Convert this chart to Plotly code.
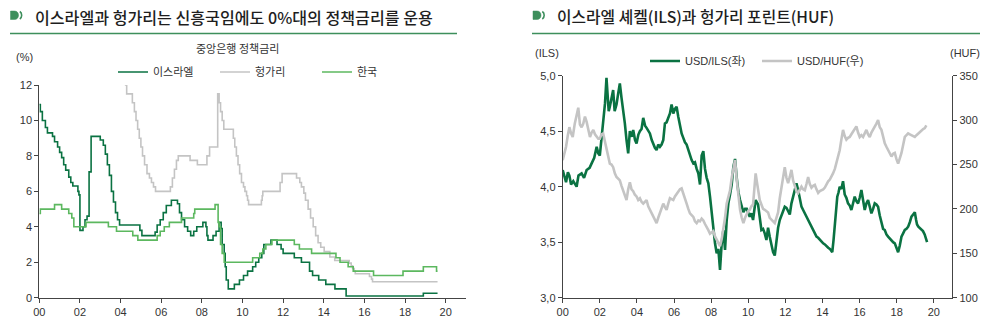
import plotly.graph_objects as go

# ---------------- Left chart: central bank policy rates (%) ----------------
isr_x = [0.00, 0.05, 0.15, 0.30, 0.40, 0.65, 0.75, 0.90, 1.00, 1.10, 1.20, 1.30, 1.45, 1.55, 1.65, 1.90, 1.95,
         2.00, 2.15, 2.25, 2.35, 2.45, 2.55, 3.00, 3.15, 3.25, 3.35, 3.45, 3.55, 3.65, 3.75, 3.85, 3.95, 4.95,
         5.05, 5.70, 5.80, 5.95, 6.10, 6.25, 6.50, 6.80, 6.90, 7.00, 7.15, 7.30, 7.45, 7.60, 7.75, 8.05, 8.20,
         8.25, 8.30, 8.55, 8.70, 8.85, 8.95, 9.00, 9.10, 9.15, 9.20, 9.30, 9.60, 9.85, 10.05, 10.25, 10.50,
         10.65, 10.80, 10.95, 11.05, 11.40, 11.70, 11.90, 12.00, 12.55, 12.90, 13.30, 13.45, 13.75, 14.10,
         14.55, 15.10, 18.90, 19.60]
isr_y = [10.9, 10.5, 10.0, 9.6, 9.3, 9.1, 8.8, 8.5, 8.2, 7.9, 7.5, 7.2, 6.8, 6.5, 6.3, 6.0, 5.8,
         3.8, 4.0, 4.4, 4.6, 7.1, 9.1, 8.9, 8.6, 8.1, 7.5, 6.9, 6.0, 5.4, 4.8, 4.4, 4.1, 3.8,
         3.5, 3.7, 4.1, 4.4, 4.8, 5.2, 5.5, 5.3, 4.8, 4.4, 4.0, 3.75, 3.5, 3.75, 4.0, 4.25, 4.0,
         3.5, 3.25, 3.5, 3.75, 4.25, 3.9, 3.0, 2.5, 1.75, 1.0, 0.5, 0.75, 1.0, 1.25, 1.5, 1.75,
         2.0, 2.25, 2.5, 3.0, 3.25, 3.0, 2.75, 2.5, 2.25, 2.0, 1.5, 1.25, 1.0, 0.75,
         0.5, 0.1, 0.25, 0.25]

hun_x = [4.21, 4.30, 4.58, 4.68, 4.76, 4.84, 4.92, 5.00, 5.08, 5.18, 5.30, 5.42, 5.52, 5.62, 5.72, 6.45,
         6.55, 6.65, 6.75, 6.84, 7.42, 7.78, 8.25, 8.38, 8.78, 8.85, 8.92, 9.00, 9.08, 9.55, 9.62, 9.70,
         9.78, 9.86, 9.95, 10.05, 10.12, 10.20, 10.25, 10.30, 10.93, 10.97, 11.00, 11.85, 11.95, 12.66,
         12.82, 12.90, 13.02, 13.10, 13.23, 13.35, 13.48, 13.60, 13.72, 13.85, 14.02, 14.30, 14.54, 15.25,
         15.35, 15.42, 15.50, 15.55, 16.25, 16.35, 16.40, 19.60]
hun_y = [12.0, 11.5, 11.0, 10.5, 10.0, 9.5, 9.0, 8.5, 8.0, 7.5, 7.0, 6.75, 6.5, 6.25, 6.0, 6.25,
         6.75, 7.25, 7.75, 8.0, 7.75, 7.5, 8.0, 8.5, 11.5, 11.0, 10.5, 10.0, 9.5, 9.0, 8.5, 8.0,
         7.5, 7.0, 6.5, 6.25, 6.0, 5.75, 5.5, 5.25, 5.5, 5.75, 6.0, 6.5, 7.0, 6.75,
         6.5, 6.25, 5.9, 5.5, 5.0, 4.5, 4.0, 3.5, 3.1, 2.85, 2.6, 2.3, 2.1, 1.95,
         1.8, 1.65, 1.5, 1.35, 1.2, 1.05, 0.9, 0.9]

kor_x = [0.00, 0.05, 0.75, 1.10, 1.45, 1.60, 1.70, 2.30, 3.40, 3.80, 4.60, 4.85, 5.80, 5.95, 6.15, 6.40,
         7.00, 7.60, 7.65, 8.65, 8.80, 8.85, 8.92, 9.00, 9.10, 10.50, 10.85, 11.00, 11.15, 11.45, 12.55,
         12.80, 13.40, 14.60, 14.80, 15.20, 15.45, 16.45, 17.90, 18.90, 19.55, 19.60]
kor_y = [4.75, 5.0, 5.25, 5.0, 4.75, 4.5, 4.0, 4.25, 4.0, 3.75, 3.5, 3.25, 3.5, 3.75, 4.0, 4.25,
         4.5, 4.75, 5.0, 5.25, 4.25, 4.0, 3.0, 2.5, 2.0, 2.25, 2.5, 2.75, 3.0, 3.25, 3.0,
         2.75, 2.5, 2.25, 2.0, 1.75, 1.5, 1.25, 1.5, 1.75, 1.5, 1.5]

# ---------------- Right chart: USD/ILS (left) and USD/HUF (right) ----------------
ils_x = [0.00, 0.10, 0.18, 0.28, 0.36, 0.45, 0.57, 0.75, 0.85, 1.02, 1.15, 1.29, 1.45, 1.56, 1.70, 1.83,
         1.92, 2.00, 2.10, 2.18, 2.28, 2.36, 2.42, 2.48, 2.54, 2.62, 2.72, 2.80, 2.90, 3.00, 3.08, 3.17,
         3.26, 3.35, 3.44, 3.53, 3.62, 3.72, 3.80, 3.90, 3.98, 4.08, 4.16, 4.25, 4.34, 4.44, 4.52, 4.62,
         4.70, 4.80, 4.88, 4.97, 5.06, 5.15, 5.24, 5.33, 5.42, 5.51, 5.60, 5.69, 5.78, 5.87, 5.96, 6.05,
         6.14, 6.23, 6.32, 6.41, 6.50, 6.59, 6.68, 6.77, 6.86, 6.95, 7.04, 7.13, 7.22, 7.31, 7.40, 7.49,
         7.58, 7.67, 7.76, 7.85, 7.94, 8.03, 8.12, 8.21, 8.30, 8.39, 8.48, 8.57, 8.66, 8.75, 8.84, 8.93,
         9.02, 9.11, 9.20, 9.29, 9.38, 9.47, 9.56, 9.65, 9.74, 9.83, 9.92, 10.08, 10.17, 10.26, 10.33,
         10.40, 10.53, 10.62, 10.71, 10.80, 10.89, 10.98, 11.07, 11.16, 11.25, 11.34, 11.43, 11.52, 11.61,
         11.70, 11.79, 11.88, 11.97, 12.06, 12.15, 12.24, 12.33, 12.42, 12.51, 12.60, 12.69, 12.78, 12.87,
         12.96, 13.05, 13.14, 13.23, 13.32, 13.41, 13.50, 13.59, 13.68, 13.77, 13.86, 13.95, 14.04, 14.13,
         14.22, 14.31, 14.40, 14.53, 14.60, 14.66, 14.73, 14.80, 14.87, 14.93, 15.02, 15.11, 15.20, 15.29,
         15.38, 15.47, 15.56, 15.65, 15.74, 15.83, 15.92, 16.01, 16.10, 16.19, 16.28, 16.37, 16.46, 16.55,
         16.64, 16.73, 16.82, 16.91, 17.00, 17.09, 17.18, 17.27, 17.36, 17.45, 17.54, 17.63, 17.72, 17.81,
         17.90, 17.99, 18.08, 18.17, 18.26, 18.35, 18.44, 18.53, 18.62, 18.71, 18.80, 18.89, 18.98, 19.05,
         19.10, 19.17, 19.24, 19.33, 19.42, 19.51, 19.58, 19.64]
ils_y = [4.15, 4.08, 4.04, 4.13, 4.10, 4.02, 4.05, 4.00, 4.10, 4.12, 4.08, 4.15, 4.17, 4.21, 4.26, 4.36,
         4.30, 4.28, 4.45, 4.62, 4.75, 4.98, 4.85, 4.68, 4.72, 4.80, 4.87, 4.68, 4.74, 4.85, 4.93, 4.80,
         4.70, 4.57, 4.42, 4.30, 4.50, 4.45, 4.51, 4.42, 4.39, 4.47, 4.50, 4.52, 4.62, 4.55, 4.53, 4.50,
         4.48, 4.42, 4.38, 4.35, 4.33, 4.38, 4.36, 4.38, 4.42, 4.57, 4.58, 4.62, 4.66, 4.74, 4.66, 4.70,
         4.72, 4.63, 4.55, 4.48, 4.44, 4.40, 4.38, 4.33, 4.28, 4.24, 4.21, 4.22, 4.16, 4.12, 4.02, 4.28,
         4.32, 4.16, 4.08, 4.03, 3.91, 3.76, 3.58, 3.49, 3.40, 3.44, 3.25, 3.49, 3.61, 3.43, 3.70, 3.85,
         3.93, 4.02, 4.18, 4.25, 4.08, 3.95, 3.88, 3.82, 3.77, 3.80, 3.80, 3.73, 3.76, 3.70, 3.80,
         3.88, 3.84, 3.72, 3.61, 3.62, 3.58, 3.52, 3.63, 3.55, 3.49, 3.41, 3.38, 3.52, 3.63,
         3.70, 3.74, 3.79, 3.82, 3.81, 3.78, 3.75, 3.85, 3.91, 3.95, 4.03, 3.97, 3.88, 3.82,
         3.79, 3.76, 3.73, 3.70, 3.67, 3.64, 3.61, 3.58, 3.55, 3.54, 3.52, 3.50, 3.49, 3.48,
         3.46, 3.45, 3.44, 3.41, 3.52, 3.64, 3.80, 3.91, 3.95, 4.00, 3.98, 4.05, 3.93, 3.90,
         3.85, 3.83, 3.79, 3.86, 3.91, 3.87, 3.85, 3.90, 3.97, 3.88, 3.79, 3.85, 3.88, 3.82,
         3.76, 3.80, 3.85, 3.84, 3.82, 3.74, 3.67, 3.62, 3.61, 3.57, 3.55, 3.53, 3.52, 3.50,
         3.49, 3.45, 3.41, 3.47, 3.55, 3.58, 3.61, 3.62, 3.64, 3.68, 3.73, 3.75, 3.77, 3.70,
         3.66, 3.64, 3.63, 3.62, 3.60, 3.57, 3.52, 3.50]

huf_x = [0.00, 0.10, 0.18, 0.27, 0.36, 0.45, 0.54, 0.65, 0.75, 0.84, 0.93, 1.02, 1.11, 1.20, 1.29, 1.38,
         1.47, 1.56, 1.65, 1.74, 1.83, 1.92, 2.00, 2.09, 2.18, 2.27, 2.36, 2.45, 2.54, 2.63, 2.72, 2.81,
         2.90, 2.99, 3.08, 3.17, 3.26, 3.35, 3.44, 3.53, 3.62, 3.71, 3.80, 3.89, 3.98, 4.07, 4.16, 4.25,
         4.34, 4.43, 4.52, 4.61, 4.70, 4.79, 4.88, 4.97, 5.06, 5.15, 5.24, 5.33, 5.42, 5.51, 5.60, 5.69,
         5.78, 5.87, 5.96, 6.05, 6.14, 6.23, 6.32, 6.41, 6.50, 6.59, 6.68, 6.77, 6.86, 6.95, 7.04, 7.13,
         7.22, 7.31, 7.40, 7.49, 7.58, 7.67, 7.76, 7.85, 7.94, 8.03, 8.12, 8.21, 8.30, 8.39, 8.48, 8.57,
         8.66, 8.75, 8.84, 8.93, 9.02, 9.11, 9.20, 9.29, 9.38, 9.47, 9.56, 9.65, 9.74, 9.83, 9.92, 10.01,
         10.08, 10.17, 10.26, 10.33, 10.40, 10.47, 10.53, 10.62, 10.71, 10.80, 10.89, 10.98, 11.07, 11.16,
         11.25, 11.34, 11.43, 11.52, 11.61, 11.70, 11.79, 11.88, 11.97, 12.06, 12.15, 12.24, 12.33, 12.42,
         12.51, 12.60, 12.69, 12.78, 12.87, 12.96, 13.05, 13.14, 13.23, 13.32, 13.41, 13.50, 13.59, 13.68,
         13.77, 13.86, 13.95, 14.04, 14.13, 14.22, 14.31, 14.40, 14.49, 14.57, 14.67, 14.75, 14.85, 14.93,
         15.02, 15.11, 15.20, 15.29, 15.38, 15.47, 15.56, 15.65, 15.74, 15.83, 15.92, 16.01, 16.10, 16.19,
         16.28, 16.37, 16.46, 16.55, 16.64, 16.73, 16.82, 16.91, 17.00, 17.09, 17.18, 17.27, 17.36, 17.45,
         17.54, 17.63, 17.72, 17.81, 17.90, 17.99, 18.08, 18.17, 18.26, 18.35, 18.44, 18.53, 18.62, 18.71,
         18.80, 18.89, 18.98, 19.07, 19.16, 19.25, 19.34, 19.43, 19.52, 19.60]
huf_y = [255, 262, 270, 282, 292, 285, 281, 296, 308, 314, 295, 292, 296, 304, 298, 290,
         281, 286, 289, 284, 282, 279, 279, 284, 285, 276, 266, 258, 251, 250, 247, 240,
         236, 234, 232, 226, 221, 215, 210, 222, 230, 222, 220, 216, 214, 210, 212, 208,
         206, 208, 210, 203, 199, 195, 191, 187, 184, 190, 195, 200, 206, 202, 199, 206,
         212, 211, 210, 214, 217, 220, 222, 223, 218, 212, 206, 200, 195, 193, 191, 186,
         184, 187, 186, 189, 187, 183, 180, 176, 172, 174, 175, 169, 165, 161, 158, 166,
         176, 190, 206, 214, 221, 235, 247, 255, 233, 212, 199, 190, 184, 190, 195, 198,
         199, 203, 205, 225, 240, 230, 221, 210, 205, 200, 199, 197, 196, 190,
         188, 186, 184, 190, 196, 212, 225, 238, 247, 235, 229, 236, 244, 232,
         225, 220, 218, 222, 225, 222, 221, 228, 236, 228, 224, 226, 227, 222,
         218, 220, 221, 222, 224, 228, 231, 233, 236, 240, 245, 251, 258, 266,
         278, 289, 282, 278, 280, 281, 284, 287, 290, 293, 286, 281, 283, 281,
         285, 289, 284, 281, 286, 289, 293, 296, 300, 292, 289, 280, 274, 270,
         266, 262, 259, 262, 263, 256, 251, 257, 263, 272, 281, 283, 285, 284,
         283, 282, 281, 283, 285, 287, 288, 290, 291, 294]

year_ticks = [0, 2, 4, 6, 8, 10, 12, 14, 16, 18, 20]
year_labels = ["00", "02", "04", "06", "08", "10", "12", "14", "16", "18", "20"]

DARK = "#0a7242"
LIGHT = "#5cb85f"
GREY = "#c4c4c4"
RULE = "#3d8f5c"
AX = "#444444"
TXT = "#333333"
FONT = "Liberation Sans, Noto Sans CJK KR, sans-serif"
KFONT = "Noto Sans CJK KR, sans-serif"
NFONT = "Liberation Sans Narrow, Noto Sans CJK KR, sans-serif"

W, H = 1000, 323
def px(x, y):
    return x / W, 1 - y / H

fig = go.Figure()

fig.add_trace(go.Scatter(x=isr_x, y=isr_y, name="이스라엘", mode="lines", line=dict(color=DARK, width=1.6, shape="hv"),
                         xaxis="x", yaxis="y", legend="legend"))
fig.add_trace(go.Scatter(x=hun_x, y=hun_y, name="헝가리", mode="lines", line=dict(color=GREY, width=1.6, shape="hv"),
                         xaxis="x", yaxis="y", legend="legend"))
fig.add_trace(go.Scatter(x=kor_x, y=kor_y, name="한국", mode="lines", line=dict(color=LIGHT, width=1.6, shape="hv"),
                         xaxis="x", yaxis="y", legend="legend"))

fig.add_trace(go.Scatter(x=huf_x, y=huf_y, name="USD/HUF(우)", mode="lines", line=dict(color=GREY, width=2.6),
                         xaxis="x2", yaxis="y3", legend="legend2", legendrank=2))
fig.add_trace(go.Scatter(x=ils_x, y=ils_y, name="USD/ILS(좌)", mode="lines", line=dict(color=DARK, width=2.6),
                         xaxis="x2", yaxis="y2", legend="legend2", legendrank=1))

axis_common = dict(showgrid=False, zeroline=False, showline=True, linecolor=AX, linewidth=1, automargin=False,
                   ticks="outside", ticklen=4, tickcolor=AX, tickfont=dict(family=FONT, size=11, color=TXT))

ybot = 1 - 297.7 / H

fig.update_layout(
    width=W, height=H, margin=dict(l=0, r=0, t=0, b=0, autoexpand=False),
    paper_bgcolor="white", plot_bgcolor="white",
    separators=",.",
    showlegend=True,
    xaxis=dict(domain=[39.3 / W, 466 / W], range=[0, 21], tickvals=year_ticks, ticktext=year_labels,
               anchor="y", **axis_common),
    yaxis=dict(domain=[ybot, 1 - 85 / H], range=[0, 12], tickvals=[0, 2, 4, 6, 8, 10, 12],
               anchor="x", **axis_common),
    xaxis2=dict(domain=[562.7 / W, 952.3 / W], range=[0, 21], tickvals=year_ticks, ticktext=year_labels,
                anchor="y2", **axis_common),
    yaxis2=dict(domain=[ybot, 1 - 75.7 / H], range=[3, 5], tickvals=[3.0, 3.5, 4.0, 4.5, 5.0], tickformat=".1f",
                anchor="x2", **axis_common),
    yaxis3=dict(range=[100, 350], tickvals=[100, 150, 200, 250, 300, 350], overlaying="y2", side="right",
                anchor="x2", **axis_common),
    legend=dict(orientation="h", x=0.113, xanchor="left", y=1 - 72 / H, yanchor="middle",
                entrywidth=57, entrywidthmode="pixels", bgcolor="rgba(0,0,0,0)",
                font=dict(family=KFONT, size=11, color=TXT), traceorder="normal"),
    legend2=dict(orientation="h", x=0.645, xanchor="left", y=1 - 61 / H, yanchor="middle",
                 entrywidth=67, entrywidthmode="pixels", bgcolor="rgba(0,0,0,0)",
                 font=dict(family=FONT, size=11, color=TXT), traceorder="normal"),
)

annotations = []
def text(x, y, s, size=11, anchor="left", family=FONT, color=TXT, weight=None):
    f = dict(family=family, size=size, color=color)
    if weight:
        f["weight"] = weight
    annotations.append(dict(xref="paper", yref="paper", x=x / W, y=1 - y / H, text=s, showarrow=False,
                            xanchor=anchor, yanchor="middle", font=f))

text(33, 17, "이스라엘과 헝가리는 신흥국임에도 0%대의 정책금리를 운용", size=16.1, family=KFONT, color="#1e1e1e", weight=500)
text(555, 17, "이스라엘 셰켈(ILS)과 헝가리 포린트(HUF)", size=15.8, family=NFONT, color="#1e1e1e", weight=500)
text(237, 48, "중앙은행 정책금리", size=11, anchor="center", family=KFONT)
text(14, 57, "(%)", size=11)
text(533, 53, "(ILS)", size=11)
text(982, 53, "(HUF)", size=11, anchor="right")
fig.update_layout(annotations=annotations)

shapes = []
def hline(x0, x1, y, color, width):
    a0, b0 = px(x0, y)
    a1, b1 = px(x1, y)
    shapes.append(dict(type="line", xref="paper", yref="paper", x0=a0, y0=b0, x1=a1, y1=b1,
                       line=dict(color=color, width=width)))

def icon(x):
    pts = lambda xx, yy: "%.5f,%.5f" % px(xx, yy)
    d = ("M" + pts(x, 11) + " L" + pts(x + 4, 11) + " C" + pts(x + 6.6, 11) + " " + pts(x + 8, 13) + " "
         + pts(x + 8, 15.2) + " C" + pts(x + 8, 17.5) + " " + pts(x + 6.6, 19.5) + " " + pts(x + 4, 19.5)
         + " L" + pts(x, 19.5) + " Z")
    shapes.append(dict(type="path", xref="paper", yref="paper", path=d, fillcolor=RULE,
                       line=dict(color=RULE, width=0.5)))
    d2 = ("M" + pts(x + 9.3, 11.5) + " C" + pts(x + 11.8, 13) + " " + pts(x + 11.8, 17.5) + " "
          + pts(x + 9.3, 19))
    shapes.append(dict(type="path", xref="paper", yref="paper", path=d2, line=dict(color=RULE, width=1.6)))

icon(10.5)
icon(533)
hline(10, 457, 33.5, RULE, 1.3)
hline(532, 980, 33.5, RULE, 1.3)
fig.update_layout(shapes=shapes)

fig.write_html("out.html")
